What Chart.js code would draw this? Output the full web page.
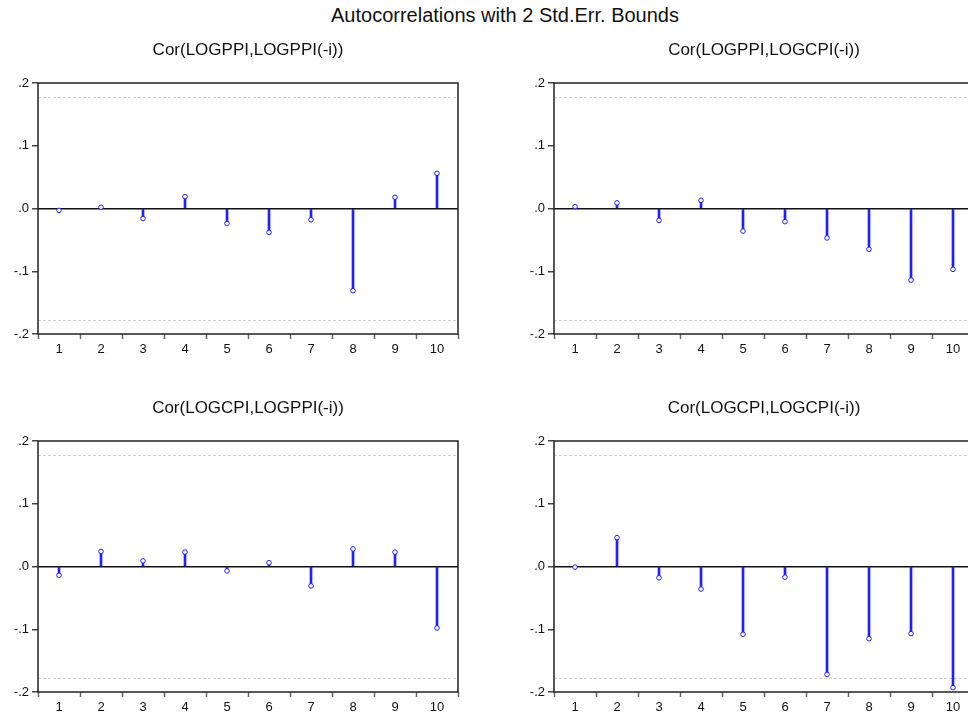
<!DOCTYPE html>
<html>
<head>
<meta charset="utf-8">
<script src="https://cdn.jsdelivr.net/npm/chart.js@4"></script>
<style>
  html, body { margin: 0; padding: 0; background: #fff; overflow: hidden; }
  body { width: 968px; height: 718px; position: relative; }
  #mainTitle {
    position: absolute; left: 505px; top: 4px; transform: translateX(-50%);
    font-family: "Liberation Sans", Arial, sans-serif; font-size: 20px; color: #111;
    white-space: nowrap;
  }
  canvas { position: absolute; }
</style>
</head>
<body>
<div id="mainTitle">Autocorrelations with 2 Std.Err. Bounds</div>
<canvas id="c1" width="500" height="359" style="left:0px;top:0px"></canvas>
<canvas id="c2" width="500" height="359" style="left:484px;top:0px"></canvas>
<canvas id="c3" width="500" height="359" style="left:0px;top:358px"></canvas>
<canvas id="c4" width="500" height="359" style="left:484px;top:358px"></canvas>
<script>
// lags 1..10
const lags = ["1", "2", "3", "4", "5", "6", "7", "8", "9", "10"];
const yTicks = [-0.2, -0.1, 0, 0.1, 0.2];
const bound = 0.178; // 2 std.err

const titles = [
    "Cor(LOGPPI,LOGPPI(-i))",
    "Cor(LOGPPI,LOGCPI(-i))",
    "Cor(LOGCPI,LOGPPI(-i))",
    "Cor(LOGCPI,LOGCPI(-i))"
];

const ppiPpi = [-0.003, 0.002, -0.016, 0.019, -0.024, -0.038, -0.018, -0.131, 0.018, 0.056];
const ppiCpi = [0.003, 0.009, -0.019, 0.013, -0.036, -0.021, -0.047, -0.065, -0.114, -0.097];
const cpiPpi = [-0.014, 0.024, 0.009, 0.023, -0.007, 0.006, -0.031, 0.028, 0.023, -0.098];
const cpiCpi = [-0.001, 0.046, -0.018, -0.036, -0.108, -0.017, -0.172, -0.115, -0.107, -0.193];

const FONT = "'Liberation Sans', Arial, sans-serif";

// frame, dashed bounds and a title centred over the plot box
const framePlugin = {
    id: "frame",
    beforeDatasetsDraw(chart) {
        const { ctx, chartArea: a, scales: { y } } = chart;
        ctx.save();
        ctx.strokeStyle = "#cfcfcf";
        ctx.lineWidth = 1;
        ctx.setLineDash([3, 2]);
        [bound, -bound].forEach(b => {
            const py = Math.round(y.getPixelForValue(b)) + 0.5;
            ctx.beginPath();
            ctx.moveTo(a.left, py);
            ctx.lineTo(a.right, py);
            ctx.stroke();
        });
        ctx.restore();
    },
    afterDraw(chart, args, opts) {
        const { ctx, chartArea: a } = chart;
        ctx.save();
        ctx.strokeStyle = "#222";
        ctx.lineWidth = 1.5;
        ctx.strokeRect(a.left, a.top, a.right - a.left, a.bottom - a.top);
        ctx.fillStyle = "#111";
        ctx.font = "17px " + FONT;
        ctx.textAlign = "center";
        ctx.textBaseline = "middle";
        ctx.fillText(opts.text, (a.left + a.right) / 2, 50);
        ctx.restore();
    }
};

function fmtTick(v) {
    let s = Number(v).toFixed(1);
    if (s === "-0.0") s = "0.0";
    return s.replace("0.", ".");
}

function makeChart(id, title, values, padLeft, padRight) {
    const ctx = document.getElementById(id).getContext("2d");
    return new Chart(ctx, {
        type: "bar",
        data: {
            labels: lags,
            datasets: [
                {
                    type: "line",
                    data: values,
                    showLine: false,
                    pointStyle: "circle",
                    pointRadius: 2.3,
                    pointBorderWidth: 1,
                    pointBorderColor: "#2020ff",
                    pointBackgroundColor: "#fff",
                    order: 1
                },
                {
                    data: values,
                    backgroundColor: "#2020ff",
                    barThickness: 2,
                    order: 2
                }
            ]
        },
        options: {
            responsive: false,
            animation: false,
            events: [],
            layout: { padding: { left: padLeft, right: padRight, top: 83, bottom: 0 } },
            plugins: {
                legend: { display: false },
                tooltip: { enabled: false },
                title: { display: false },
                frame: { text: title }
            },
            scales: {
                x: {
                    offset: true,
                    grid: {
                        offset: true,
                        drawOnChartArea: false,
                        tickColor: "#666",
                        tickLength: 5,
                        tickWidth: 1.5
                    },
                    border: { display: false },
                    ticks: {
                        color: "#111",
                        padding: 3,
                        maxRotation: 0,
                        font: { family: FONT, size: 13 }
                    },
                    afterFit(scale) { scale.height = 25; }
                },
                y: {
                    min: -0.2,
                    max: 0.2,
                    afterBuildTicks(scale) {
                        scale.ticks = yTicks.map(v => ({ value: v }));
                    },
                    grid: {
                        color: c => (c.tick && Math.abs(c.tick.value) < 1e-9) ? "#111" : "rgba(0,0,0,0)",
                        lineWidth: 1.5,
                        tickColor: "#444",
                        tickLength: 6
                    },
                    border: { display: false },
                    ticks: {
                        color: "#111",
                        padding: 3,
                        font: { family: FONT, size: 13 },
                        callback: v => fmtTick(v)
                    },
                    afterFit(scale) { scale.width = 38; }
                }
            }
        },
        plugins: [framePlugin]
    });
}

makeChart("c1", titles[0], ppiPpi, 0, 42);
makeChart("c2", titles[1], ppiCpi, 32, 10);
makeChart("c3", titles[2], cpiPpi, 0, 42);
makeChart("c4", titles[3], cpiCpi, 32, 10);
</script>
</body>
</html>
